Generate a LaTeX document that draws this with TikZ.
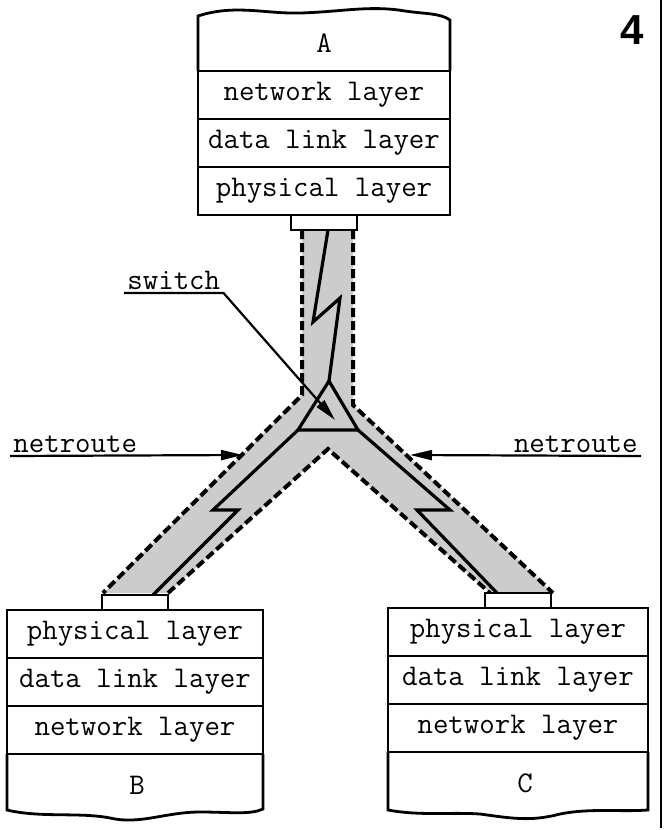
\documentclass[tikz,border=0pt]{standalone}
\usepackage{fontspec}
\newfontfamily\heavy{Liberation Sans}
\usetikzlibrary{positioning, arrows.meta}

\begin{document}
\begin{tikzpicture}[x=0.5pt,y=-0.5pt,
  layer/.style={draw,line width=1.4pt,outer sep=0pt,inner sep=0pt,minimum height=24pt,font=\ttfamily\fontsize{15}{17}\selectfont},
  stub/.style={draw,fill=white,line width=1.4pt,outer sep=0pt,inner sep=0pt,minimum width=33pt,minimum height=7.5pt},
  route/.style={line width=2pt,dash pattern=on 4.5pt off 2pt},
  link/.style={line width=1.6pt},
  lbl/.style={font=\ttfamily\fontsize{15}{17}\selectfont,inner sep=1.5pt},
  pointer/.style={line width=1.1pt,-{Triangle[length=11pt,width=5pt]}}]
\useasboundingbox (0,0) rectangle (667,830);
% the route, shaded
\fill[gray!40] (302,230) -- (353,230) -- (353,405) -- (553,593) -- (490,593) -- (328,449) -- (168,593) -- (103,593) -- (302,395) -- cycle;
\draw[route] (302,230) -- (302,395) -- (103,593);
\draw[route] (353,230) -- (353,405) -- (553,593);
\draw[route] (168,593) -- (328,449) -- (490,593);
% host A
\node[layer,minimum width=126pt] (Anet) at (324,95) {network layer};
\node[layer,minimum width=126pt,below=0pt of Anet] (Adl) {data link layer};
\node[layer,minimum width=126pt,below=0pt of Adl] (Aph) {physical layer};
\draw[line width=1.4pt] (Anet.north west) -- (198,16) .. controls (235,4) and (265,14) .. (300,13) .. controls (340,12) and (370,5) .. (405,11) .. controls (425,14) and (440,13) .. (450,20) -- (Anet.north east);
\node[lbl] (A) at (324,43) {A};
\node[stub,below=0pt of Aph] (As) {};
% host B
\node[layer,minimum width=128pt] (Bph) at (135,634) {physical layer};
\node[layer,minimum width=128pt,below=0pt of Bph] (Bdl) {data link layer};
\node[layer,minimum width=128pt,below=0pt of Bdl] (Bnet) {network layer};
\draw[line width=1.4pt] (Bnet.south west) -- (7,810) .. controls (40,818) and (80,812) .. (110,818) .. controls (140,825) and (165,812) .. (200,812) .. controls (230,812) and (250,815) .. (263,809) -- (Bnet.south east);
\node[lbl] (B) at (137,785) {B};
\node[stub,above=0pt of Bph] (Bs) {};
% host C
\node[layer,minimum width=130pt] (Cph) at (518,632) {physical layer};
\node[layer,minimum width=130pt,below=0pt of Cph] (Cdl) {data link layer};
\node[layer,minimum width=130pt,below=0pt of Cdl] (Cnet) {network layer};
\draw[line width=1.4pt] (Cnet.south west) -- (388,810) .. controls (420,816) and (450,812) .. (480,814) .. controls (510,818) and (530,822) .. (560,814) .. controls (590,808) and (620,812) .. (648,810) -- (Cnet.south east);
\node[lbl] (C) at (525,783) {C};
\node[stub,above=0pt of Cph] (Cs) {};
% switch and links
\coordinate (top) at (329,381);
\coordinate (tl) at (298,430);
\coordinate (tr) at (358,430);
\draw[link] ([xshift=2pt]As.south) -- (313,322) -- (340,298) -- (top);
\draw[link] (top) -- (tl) -- (tr) -- cycle;
\draw[link] (tl) -- (213,510) -- (238,510) -- ([xshift=9pt]Bs.north);
\draw[link] (tr) -- (450,510) -- (417,510) -- ([xshift=-10.5pt]Cs.north);
% labels
\node[lbl,anchor=south west] (sw) at (124,293) {switch};
\draw[pointer] (sw.south west) -- (sw.south east) -- (335,420);
\coordinate (hitl) at (243,455);
\coordinate (hitr) at (410,455);
\node[lbl,anchor=south west] (nl) at (10,456) {netroute};
\draw[pointer] (nl.south west) -- (hitl);
\node[lbl,anchor=south east] (nr) at (641,456) {netroute};
\draw[pointer] (nr.south east) -- (hitr);
\node[font=\heavy\bfseries\fontsize{21}{21}\selectfont] (num) at (632,30) {4};
\draw[line width=1pt] (661,0) -- (661,828);
\end{tikzpicture}
\end{document}
